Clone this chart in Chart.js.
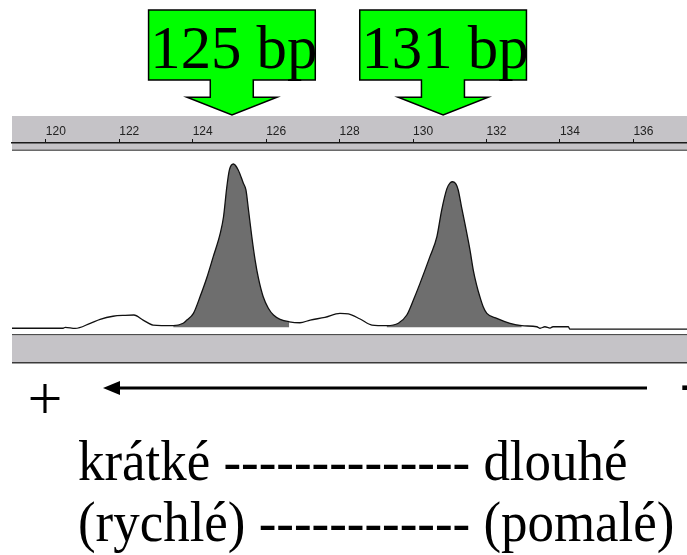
<!DOCTYPE html>
<html><head><meta charset="utf-8">
<script src="https://cdn.jsdelivr.net/npm/chart.js@4.4.1/dist/chart.umd.min.js"></script>
<style>html,body{margin:0;padding:0;background:#fff;overflow:hidden}#wrap{width:687px;height:555px;position:relative}</style>
</head><body>
<div id="wrap"><canvas id="c"></canvas></div>
<script>
const tickValues = [120,122,124,126,128,130,132,134,136];
const traceBp = [119.08,120.47,120.53,120.80,121.21,121.48,121.83,122.16,122.40,122.65,122.92,123.47,123.74,123.84,124.02,124.20,124.38,124.56,124.75,124.84,124.93,125.00,125.11,125.24,125.38,125.45,125.52,125.61,125.70,125.79,125.92,126.06,126.20,126.38,126.63,126.92,127.20,127.60,128.01,128.24,128.56,128.88,129.28,129.60,129.83,130.01,130.19,130.46,130.65,130.78,130.92,131.01,131.08,131.17,131.23,131.32,131.41,131.55,131.64,131.73,131.82,131.91,132.01,132.28,132.64,132.96,133.37,133.46,133.59,133.73,133.81,134.23,134.27,137.46];
const traceSignal = [3.0,3.0,3.5,2.9,5.6,7.7,9.3,9.8,9.95,7.3,4.7,4.35,5.6,7.3,10.8,19.5,29.2,40.5,52.7,61.4,77.1,85.9,89.0,85.9,78.9,75.4,64.9,50.9,38.7,29.2,19.5,13.5,9.95,7.7,6.4,5.9,7.3,8.7,10.8,10.5,7.85,4.7,4.35,5.6,9.95,17.8,26.5,40.5,51.0,64.9,76.0,79.1,79.7,78.5,75.4,66.6,58.0,44.0,33.5,25.7,19.5,14.3,10.8,8.2,5.6,4.35,3.8,3.0,3.8,3.1,3.8,3.8,2.6,2.6];
const peakStartBp = [123.47, 129.28];
const peakEndBp = [126.63, 132.96];
const peakFillBase = 3.5;
const peakLabels = ['125 bp', '131 bp'];
const peakArrowBp = [125.07, 130.82];
const captionLines = ['krátké -------------- dlouhé', '(rychlé) ------------ (pomalé)'];
const poleLabels = ['+', '-'];

const tracePoints = traceBp.map((b, i) => ({x: b, y: traceSignal[i]}));
const peakSets = peakStartBp.map((s, k) => ({
  data: tracePoints.filter(p => p.x >= s && p.x <= peakEndBp[k]),
  borderWidth: 0,
  pointRadius: 0,
  backgroundColor: '#6e6e6e',
  fill: {value: peakFillBase},
  cubicInterpolationMode: 'monotone'
}));

const decor = {
  id: 'decor',
  beforeDraw(chart) {
    const {ctx, chartArea: a, scales: {x}} = chart;
    const w = a.right - a.left;
    ctx.save();
    ctx.fillStyle = '#fff';
    ctx.fillRect(0, 0, chart.width, chart.height);
    ctx.fillStyle = '#c5c3c7';
    ctx.fillRect(a.left, x.top, w, a.top + 8 - x.top);
    ctx.fillStyle = '#6a6a6a';
    ctx.fillRect(a.left, a.top + 6.5, w, 1.5);
    ctx.fillStyle = '#4e4e4e';
    ctx.fillRect(a.left, a.bottom, w, 1.5);
    ctx.fillStyle = '#c5c3c7';
    ctx.fillRect(a.left, a.bottom + 1.5, w, 26.5);
    ctx.fillStyle = '#3a3a3a';
    ctx.fillRect(a.left, a.bottom + 28, w, 1.5);
    ctx.restore();
  },
  afterDraw(chart) {
    const {ctx, scales: {x}} = chart;
    ctx.save();
    peakArrowBp.forEach((bp, i) => {
      const tx = x.getPixelForValue(bp), ty = x.top - 1;
      ctx.beginPath();
      ctx.moveTo(tx - 83.4, 10);
      ctx.lineTo(tx + 83.3, 10);
      ctx.lineTo(tx + 83.3, 80);
      ctx.lineTo(tx + 21.3, 80);
      ctx.lineTo(tx + 21.3, 97.3);
      ctx.lineTo(tx + 45, 97.3);
      ctx.lineTo(tx, ty);
      ctx.lineTo(tx - 45, 97.3);
      ctx.lineTo(tx - 21.7, 97.3);
      ctx.lineTo(tx - 21.7, 80);
      ctx.lineTo(tx - 83.4, 80);
      ctx.closePath();
      ctx.fillStyle = '#00ff00';
      ctx.fill();
      ctx.lineWidth = 1.5;
      ctx.strokeStyle = '#000';
      ctx.stroke();
      ctx.save();
      ctx.translate(tx - 81.7, 68.3);
      ctx.scale(0.98, 1);
      ctx.fillStyle = '#000';
      ctx.font = '62px "Liberation Serif", "Times New Roman", serif';
      ctx.textAlign = 'left';
      ctx.textBaseline = 'alphabetic';
      ctx.fillText(peakLabels[i], 0, 0);
      ctx.restore();
    });
    // migration direction arrow
    ctx.strokeStyle = '#000';
    ctx.lineWidth = 3;
    ctx.beginPath();
    ctx.moveTo(115, 388);
    ctx.lineTo(647, 388);
    ctx.stroke();
    ctx.beginPath();
    ctx.moveTo(103, 388);
    ctx.lineTo(120, 381);
    ctx.lineTo(120, 395);
    ctx.closePath();
    ctx.fillStyle = '#000';
    ctx.fill();
    ctx.font = '62px "Liberation Serif", "Times New Roman", serif';
    ctx.textAlign = 'center';
    ctx.fillText(poleLabels[0], 45, 419);
    ctx.textAlign = 'left';
    ctx.fillText(poleLabels[1], 680, 402);
    ctx.font = '56px "Liberation Serif", "Times New Roman", serif';
    [480, 541].forEach((by, i) => {
      ctx.save();
      ctx.translate(78, by);
      ctx.scale(0.945, 1);
      ctx.fillText(captionLines[i], 0, 0);
      ctx.restore();
    });
    ctx.restore();
  }
};

new Chart(document.getElementById('c'), {
  type: 'line',
  data: {
    datasets: [{
      data: tracePoints,
      borderColor: '#111',
      borderWidth: 1.3,
      pointRadius: 0,
      fill: false,
      cubicInterpolationMode: 'monotone'
    }, ...peakSets]
  },
  options: {
    responsive: true,
    maintainAspectRatio: false,
    animation: false,
    events: [],
    layout: {padding: {top: 116, left: 12, right: 0, bottom: 221}},
    plugins: {legend: {display: false}, tooltip: {enabled: false}, title: {display: false}},
    scales: {
      x: {
        type: 'linear',
        position: 'top',
        min: 119.08,
        max: 137.46,
        afterBuildTicks: s => { s.ticks = tickValues.map(v => ({value: v})); },
        afterFit: s => { s.height = 27; },
        grid: {drawOnChartArea: false, drawTicks: true, tickLength: 4, color: '#111', lineWidth: 1},
        border: {display: true, color: '#1a1a1a', width: 1.5},
        ticks: {
          align: 'start',
          padding: 0,
          autoSkip: false,
          maxRotation: 0,
          color: '#222',
          font: {family: '"Liberation Sans Narrow", "Arial Narrow", "Liberation Sans", Arial, sans-serif', size: 12},
          callback: v => String(v)
        }
      },
      y: {display: false, min: 0, max: 100}
    }
  },
  plugins: [decor]
});
</script>
</body></html>
